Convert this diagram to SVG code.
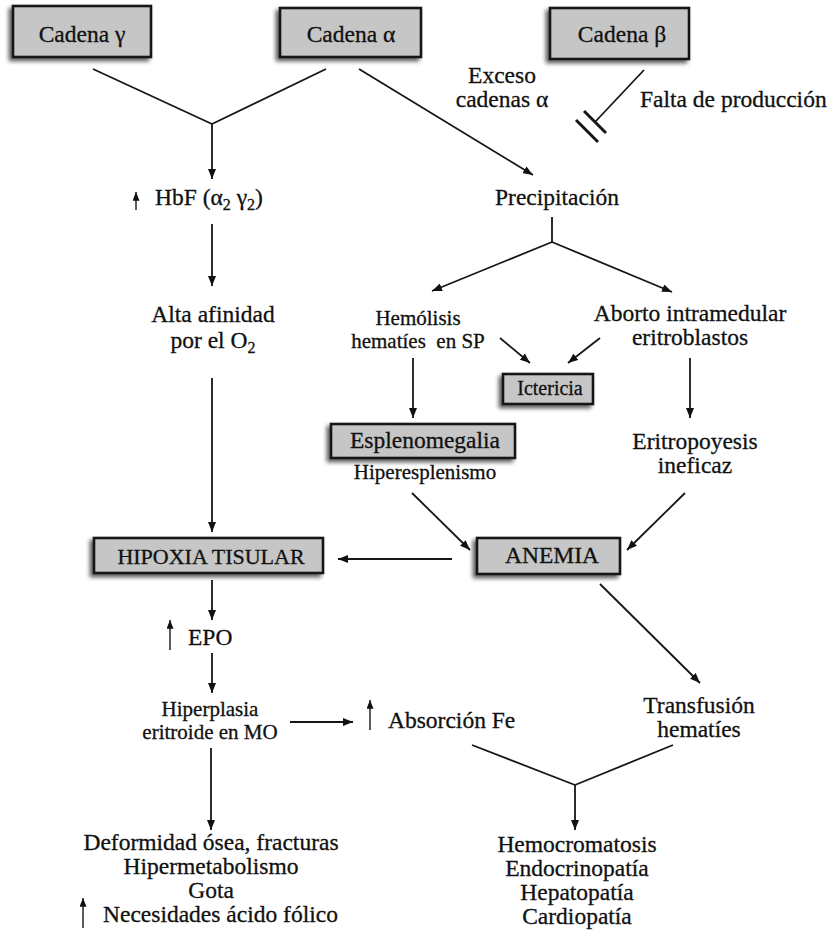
<svg xmlns="http://www.w3.org/2000/svg" width="838" height="930" viewBox="0 0 838 930">
  <defs>
    <marker id="arrow" viewBox="0 0 10 8" refX="10" refY="4" markerWidth="10" markerHeight="8" markerUnits="userSpaceOnUse" orient="auto">
      <path d="M0,0 L10,4 L0,8 z" fill="#111"/>
    </marker>
    <marker id="up" viewBox="0 0 8 10" refX="4" refY="0" markerWidth="7" markerHeight="9" markerUnits="userSpaceOnUse" orient="0">
      <path d="M4,0 L8,10 L0,10 z" fill="#111"/>
    </marker>
    <filter id="shadow" x="-20%" y="-30%" width="140%" height="170%">
      <feGaussianBlur in="SourceAlpha" stdDeviation="2.2"/>
      <feOffset dx="-3" dy="3" result="b"/>
      <feComponentTransfer><feFuncA type="linear" slope="0.65"/></feComponentTransfer>
      <feMerge><feMergeNode/><feMergeNode in="SourceGraphic"/></feMerge>
    </filter>
    <style>
      text { font-family: "Liberation Serif", "Times New Roman", serif; fill: #111; stroke: #111; stroke-width: 0.3; }
      .lg { font-size: 23.5px; }
      .sm { font-size: 21px; }
      .xs { font-size: 20px; }
      .c { text-anchor: middle; }
      .box { fill: #c6c6c6; stroke: #161616; stroke-width: 2.6; filter: url(#shadow); }
      .ln { stroke: #161616; stroke-width: 1.8; fill: none; }
      .ar { marker-end: url(#arrow); }
      .upa { stroke: #161616; stroke-width: 1.4; marker-start: url(#up); }
      .bar { stroke: #161616; stroke-width: 3; }
    </style>
  </defs>

  <rect width="838" height="930" fill="#ffffff"/>

  <!-- connectors -->
  <g id="connectors">
    <line class="ln" x1="93" y1="69" x2="212" y2="124"/>
    <line class="ln" x1="326" y1="69" x2="212" y2="124"/>
    <line class="ln ar" x1="212" y1="124" x2="212" y2="179"/>
    <line class="ln ar" x1="212" y1="224" x2="212" y2="286"/>
    <line class="ln ar" x1="212" y1="378" x2="212" y2="532"/>
    <line class="ln ar" x1="359" y1="69" x2="533" y2="175"/>
    <line class="ln" x1="644" y1="70" x2="595" y2="122"/>
    <line class="bar" x1="584" y1="111" x2="606" y2="133"/>
    <line class="bar" x1="576" y1="120" x2="598" y2="142"/>
    <line class="ln" x1="552" y1="217" x2="552" y2="242"/>
    <line class="ln ar" x1="552" y1="242" x2="432" y2="291"/>
    <line class="ln ar" x1="552" y1="242" x2="672" y2="292"/>
    <line class="ln ar" x1="500" y1="338" x2="530" y2="363"/>
    <line class="ln ar" x1="600" y1="338" x2="568" y2="363"/>
    <line class="ln ar" x1="413" y1="358" x2="413" y2="418"/>
    <line class="ln ar" x1="690" y1="358" x2="690" y2="418"/>
    <line class="ln ar" x1="412" y1="493" x2="470" y2="550"/>
    <line class="ln ar" x1="685" y1="493" x2="627" y2="550"/>
    <line class="ln ar" x1="452" y1="559" x2="338" y2="559"/>
    <line class="ln ar" x1="212" y1="580" x2="212" y2="620"/>
    <line class="ln ar" x1="212" y1="653" x2="212" y2="693"/>
    <line class="ln ar" x1="290" y1="722" x2="353" y2="722"/>
    <line class="ln ar" x1="211" y1="748" x2="211" y2="830"/>
    <line class="ln ar" x1="600" y1="584" x2="700" y2="683"/>
    <line class="ln" x1="472" y1="745" x2="575" y2="785"/>
    <line class="ln" x1="673" y1="745" x2="575" y2="785"/>
    <line class="ln ar" x1="575" y1="785" x2="575" y2="830"/>
  </g>

  <!-- boxed nodes -->
  <g id="cadena-gamma">
    <rect class="box" x="13" y="6" width="138" height="51"/>
    <text class="lg c" x="82" y="42">Cadena γ</text>
  </g>
  <g id="cadena-alfa">
    <rect class="box" x="280" y="8" width="141" height="49"/>
    <text class="lg c" x="351" y="42">Cadena α</text>
  </g>
  <g id="cadena-beta">
    <rect class="box" x="550" y="8" width="139" height="51"/>
    <text class="lg c" x="622" y="42">Cadena β</text>
  </g>
  <g id="ictericia">
    <rect class="box" x="503" y="374" width="90" height="30"/>
    <text class="xs c" x="550" y="395">Ictericia</text>
  </g>
  <g id="esplenomegalia">
    <rect class="box" x="331" y="424" width="184" height="34"/>
    <text class="lg c" x="425" y="448">Esplenomegalia</text>
    <text class="sm c" x="425" y="479">Hiperesplenismo</text>
  </g>
  <g id="hipoxia">
    <rect class="box" x="94" y="538" width="229" height="35"/>
    <text class="c" x="211" y="564" style="font-size:22px">HIPOXIA TISULAR</text>
  </g>
  <g id="anemia">
    <rect class="box" x="477" y="538" width="143" height="36"/>
    <text class="lg c" x="552" y="563">ANEMIA</text>
  </g>

  <!-- text nodes -->
  <g id="hbf">
    <line class="upa" x1="136" y1="192" x2="136" y2="210"/>
    <text class="lg" x="155" y="205">HbF (α<tspan dy="5" style="font-size:16px">2</tspan><tspan dy="-5"> γ</tspan><tspan dy="5" style="font-size:16px">2</tspan><tspan dy="-5">)</tspan></text>
  </g>
  <g id="alta-afinidad">
    <text class="lg c" x="213" y="322">Alta afinidad</text>
    <text class="lg c" x="213" y="348">por el O<tspan dy="5" style="font-size:16px">2</tspan></text>
  </g>
  <g id="exceso">
    <text class="lg c" x="502" y="83">Exceso</text>
    <text class="lg c" x="502" y="107">cadenas α</text>
  </g>
  <g id="falta-produccion">
    <text class="lg" x="640" y="107">Falta de producción</text>
  </g>
  <g id="precipitacion">
    <text class="lg c" x="557" y="205">Precipitación</text>
  </g>
  <g id="hemolisis">
    <text class="sm c" x="418" y="325">Hemólisis</text>
    <text class="sm c" x="418" y="348" style="white-space:pre">hematíes  en SP</text>
  </g>
  <g id="aborto">
    <text class="lg c" x="690" y="321">Aborto intramedular</text>
    <text class="lg c" x="690" y="345">eritroblastos</text>
  </g>
  <g id="eritropoyesis">
    <text class="lg c" x="695" y="449">Eritropoyesis</text>
    <text class="lg c" x="695" y="473">ineficaz</text>
  </g>
  <g id="epo">
    <line class="upa" x1="170" y1="620" x2="170" y2="650"/>
    <text class="lg" x="188" y="645">EPO</text>
  </g>
  <g id="hiperplasia">
    <text class="sm c" x="210" y="716">Hiperplasia</text>
    <text class="sm c" x="210" y="739">eritroide en MO</text>
  </g>
  <g id="absorcion">
    <line class="upa" x1="370" y1="700" x2="370" y2="730"/>
    <text class="lg" x="388" y="728">Absorción Fe</text>
  </g>
  <g id="transfusion">
    <text class="lg c" x="699" y="713">Transfusión</text>
    <text class="lg c" x="699" y="737">hematíes</text>
  </g>
  <g id="complicaciones-oseas">
    <text class="lg c" x="211" y="850">Deformidad ósea, fracturas</text>
    <text class="lg c" x="211" y="874">Hipermetabolismo</text>
    <text class="lg c" x="211" y="898">Gota</text>
    <line class="upa" x1="83" y1="898" x2="83" y2="928"/>
    <text class="lg" x="103" y="922">Necesidades ácido fólico</text>
  </g>
  <g id="sobrecarga-hierro">
    <text class="lg c" x="577" y="852">Hemocromatosis</text>
    <text class="lg c" x="577" y="876">Endocrinopatía</text>
    <text class="lg c" x="577" y="900">Hepatopatía</text>
    <text class="lg c" x="577" y="924">Cardiopatía</text>
  </g>
</svg>
